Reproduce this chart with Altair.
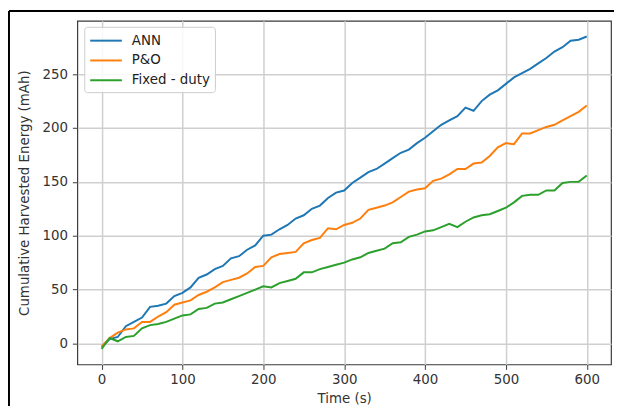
import altair as alt
import pandas as pd

time_s = list(range(0, 601, 10))

ann = [-3, 4, 6, 16, 20, 24, 34, 35, 37, 44,
       47, 52, 61, 64, 69, 72, 79, 81, 87, 91,
       100, 101, 106, 110, 116, 119, 125, 128, 135, 140,
       142, 149, 154, 159, 162, 167, 172, 177, 180, 186,
       191, 197, 203, 207, 211, 219, 216, 225, 231, 235,
       241, 247, 251, 255, 260, 265, 271, 275, 281, 282,
       285]

po = [-3, 5, 10, 13, 14, 20, 20, 25, 29, 36,
      38, 40, 45, 48, 52, 57, 59, 61, 65, 71,
      72, 80, 83, 84, 85, 93, 96, 98, 107, 106,
      110, 112, 116, 124, 126, 128, 131, 136, 141, 143,
      144, 151, 153, 157, 162, 162, 167, 168, 174, 182,
      186, 185, 195, 195, 198, 201, 203, 207, 211, 215,
      221]

fixed = [-5, 5, 2, 6, 7, 14, 17, 18, 20, 23,
         26, 27, 32, 33, 37, 38, 41, 44, 47, 50,
         53, 52, 56, 58, 60, 66, 66, 69, 71, 73,
         75, 78, 80, 84, 86, 88, 93, 94, 99, 101,
         104, 105, 108, 111, 108, 113, 117, 119, 120, 123,
         126, 131, 137, 138, 138, 142, 142, 149, 150, 150,
         156]

series_names = ["ANN", "P&O", "Fixed - duty"]
series_colors = ["#1f77b4", "#ff7f0e", "#2ca02c"]
x_ticks = [0, 100, 200, 300, 400, 500, 600]
y_ticks = [0, 50, 100, 150, 200, 250]

rows = []
for name, vals in zip(series_names, [ann, po, fixed]):
    for t, v in zip(time_s, vals):
        rows.append({"t": t, "v": v, "series": name})
df = pd.DataFrame(rows)

W, H = 539, 347
FONT = "DejaVu Sans"

lines = alt.Chart(df).mark_line(strokeWidth=2, clip=True).encode(
    x=alt.X("t:Q",
            scale=alt.Scale(domain=[-30, 630], nice=False, zero=False),
            axis=alt.Axis(values=x_ticks, title="Time (s)", titleY=34,
                          titleBaseline="middle", labelPadding=3)),
    y=alt.Y("v:Q",
            scale=alt.Scale(domain=[-19.5, 299.5], nice=False, zero=False),
            axis=alt.Axis(values=y_ticks, title="Cumulative Harvested Energy (mAh)",
                          titleX=-53, titleY=H / 2, titleAngle=270,
                          titleAlign="center", titleBaseline="middle",
                          labelPadding=5)),
    color=alt.Color("series:N",
                    scale=alt.Scale(domain=series_names, range=series_colors),
                    sort=series_names,
                    legend=alt.Legend(orient="none", legendX=7, legendY=6, title=None,
                                      symbolType="M-1,0L3,0", symbolSize=256,
                                      symbolStrokeWidth=2, labelFontSize=13.5,
                                      labelFont=FONT, labelColor="#222222",
                                      labelOffset=25, rowPadding=4, padding=5,
                                      fillColor="rgba(255,255,255,0.85)",
                                      strokeColor="#cccccc", cornerRadius=3)),
)

dummy = pd.DataFrame({"k": [0]})
border_top = alt.Chart(dummy).mark_rule(color="black", strokeWidth=2).encode(
    x=alt.value(-69), x2=alt.value(W + 3), y=alt.value(-10))
border_left = alt.Chart(dummy).mark_rule(color="black", strokeWidth=2).encode(
    x=alt.value(-69), y=alt.value(-10), y2=alt.value(H + 42))

chart = alt.layer(lines, border_top, border_left).properties(
    width=W, height=H,
    autosize=alt.AutoSizeParams(type="none"),
    padding={"left": 70, "top": 11, "right": 3, "bottom": 42},
    background="white",
).configure_view(
    stroke="#3a3a3a", strokeWidth=1.2
).configure_axis(
    domain=False, grid=True, gridColor="#cfcfcf", gridWidth=1.5,
    tickColor="#3a3a3a", tickSize=5, tickWidth=1,
    labelFont=FONT, labelFontSize=13.5, labelColor="#333333",
    titleFont=FONT, titleFontSize=13.5, titleFontWeight="normal", titleColor="#333333",
)

chart.save("out.html", embed_options={"renderer": "svg", "actions": False})
